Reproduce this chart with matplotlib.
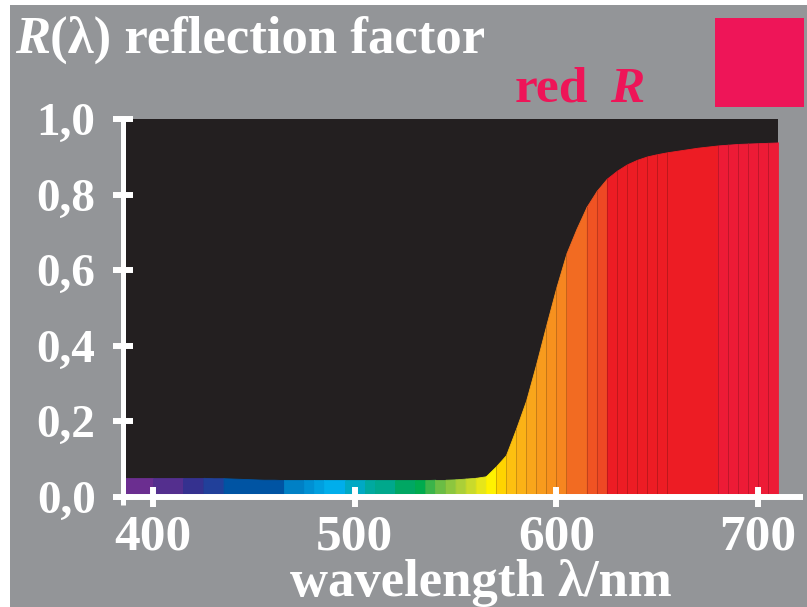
"""
Reflection factor R(lambda) of a red sample, drawn as a spectrum-coloured area.
"""

import numpy as np
import matplotlib
matplotlib.use("Agg")
import matplotlib.pyplot as plt
from matplotlib.patches import Rectangle

# --- data ------------------------------------------------------------------
wavelength = [385, 390, 395, 400, 405, 410, 415, 420, 425, 430, 435, 440,
              445, 450, 455, 460, 465, 470, 475, 480, 485, 490, 495, 500,
              505, 510, 515, 520, 525, 530, 535, 540, 545, 550, 555, 560,
              565, 570, 575, 580, 585, 590, 595, 600, 605, 610, 615, 620,
              625, 630, 635, 640, 645, 650, 655, 660, 665, 670, 675, 680,
              685, 690, 695, 700, 705, 710]

reflectance = [0.050, 0.050, 0.050, 0.050, 0.050, 0.050, 0.050, 0.050,
               0.050, 0.049, 0.049, 0.048, 0.047, 0.046, 0.045, 0.045,
               0.044, 0.044, 0.044, 0.044, 0.044, 0.044, 0.044, 0.044,
               0.044, 0.044, 0.044, 0.044, 0.044, 0.044, 0.044, 0.045,
               0.045, 0.046, 0.048, 0.050, 0.054, 0.080, 0.110, 0.180,
               0.255, 0.352, 0.455, 0.555, 0.645, 0.710, 0.768, 0.810,
               0.842, 0.863, 0.880, 0.892, 0.901, 0.907, 0.912, 0.916,
               0.920, 0.924, 0.927, 0.930, 0.932, 0.934, 0.935, 0.936,
               0.937, 0.938]

# colour bands of the spectrum: start, end (nm) and colour
band_start = [385, 400, 415, 425, 435, 465, 475, 480, 485, 495, 505, 510,
              520, 530, 535, 540, 545, 550, 555, 560, 565, 570, 575, 580,
              585, 590, 595, 600, 605, 615, 620, 625, 630, 635, 640, 645,
              650, 655, 680, 685, 690, 695, 700, 705]
band_end = band_start[1:] + [710]
band_color = ['#6b2e90', '#542f8e', '#35318f', '#21409a', '#0054a3',
              '#0080c5', '#0090d3', '#009fdf', '#00aeeb', '#00a9c4',
              '#00a99f', '#00a88c', '#00a763', '#00ab4e', '#3bb44a',
              '#6abd45', '#8cc63f', '#abcf38', '#c9da2b', '#e6e61a',
              '#fff200', '#ffd400', '#fdc010', '#fbb216', '#f9a61b',
              '#f89b1d', '#f7911e', '#f68620', '#f26b22', '#f05323',
              '#ee4824', '#ed1c24', '#ed1c24', '#ed1c24', '#ed1c24',
              '#ed1c24', '#ed1c24', '#ed1c24', '#ed1b36', '#ed1b36',
              '#ed1b36', '#ed1b36', '#ed1b36', '#ed1b36']

x_ticks = [400, 500, 600, 700]
x_tick_labels = ['400', '500', '600', '700']
y_ticks = [0.0, 0.2, 0.4, 0.6, 0.8, 1.0]
y_tick_labels = ['0,0', '0,2', '0,4', '0,6', '0,8', '1,0']

GRAY = '#939598'
BLACK = '#231f20'
SAMPLE = '#ee1558'
W, H = 807, 607

plt.rcParams['font.family'] = ['Liberation Serif', 'DejaVu Serif']
plt.rcParams['font.weight'] = 'bold'


def fig_xy(x, y):
    """pixel position (from top left) -> figure fraction"""
    return x / W, 1 - y / H


fig = plt.figure(figsize=(W / 100, H / 100), dpi=100, facecolor='white')
fig.add_artist(Rectangle((10 / W, 0), 1, 1 - 5 / H, transform=fig.transFigure,
                         facecolor=GRAY, edgecolor='none', zorder=0))

ax = fig.add_axes([122.7 / W, 110.3 / H, 655.6 / W, 377.7 / H])
ax.set_facecolor(BLACK)
ax.set_xlim(385, 710)
ax.set_ylim(0, 1)

wl = np.array(wavelength)
rf = np.array(reflectance)

# coloured bands under the curve (stroked in their own colour to hide seams)
for s, e, c in zip(band_start, band_end, band_color):
    m = (wl >= s) & (wl <= e)
    ax.fill_between(wl[m], 0, rf[m], facecolor=c, edgecolor=c,
                    linewidth=0.6, zorder=1)

# thin seams between the warm bands
for s in band_start:
    if s >= 570:
        ax.plot([s, s], [0, np.interp(s, wl, rf)], color='black', alpha=0.18,
                lw=0.7, zorder=1.2)

# axis lines, drawn a bit past the plot area
ax.plot([380.3, 722.3], [0, 0], color='white', lw=4.3,
        solid_capstyle='butt', clip_on=False, zorder=3)
ax.plot([385, 385], [-0.022, 1.008], color='white', lw=3.6,
        solid_capstyle='butt', clip_on=False, zorder=3)

for sp in ax.spines.values():
    sp.set_visible(False)

ax.set_axisbelow(False)
ax.set_xticks(x_ticks)
ax.set_xticklabels(x_tick_labels)
ax.set_yticks(y_ticks)
ax.set_yticklabels(y_tick_labels)
ax.tick_params(axis='both', direction='inout', length=15.1, width=4.3,
               color='white', labelcolor='white')
ax.tick_params(axis='x', labelsize=37, pad=5)
ax.tick_params(axis='y', labelsize=34, pad=12)

# titles and labels
fig.text(*fig_xy(15, 53), 'R', color='white', fontsize=38, style='italic',
         fontweight='bold', va='baseline', ha='left')
fig.text(*fig_xy(50, 53), '(λ) reflection factor', color='white',
         fontsize=38, fontweight='bold', va='baseline', ha='left')
fig.text(*fig_xy(515, 102), 'red', color=SAMPLE, fontsize=37,
         fontweight='bold', va='baseline', ha='left')
fig.text(*fig_xy(610, 102), 'R', color=SAMPLE, fontsize=37, style='italic',
         fontweight='bold', va='baseline', ha='left')
fig.text(*fig_xy(481, 596), 'wavelength λ/nm', color='white', fontsize=38,
         fontweight='bold', va='baseline', ha='center')

# colour sample square
fig.add_artist(Rectangle(fig_xy(715, 107), 89 / W, 89 / H,
                         transform=fig.transFigure, facecolor=SAMPLE,
                         edgecolor='none'))

fig.savefig('out.png', dpi=100, facecolor=fig.get_facecolor())
